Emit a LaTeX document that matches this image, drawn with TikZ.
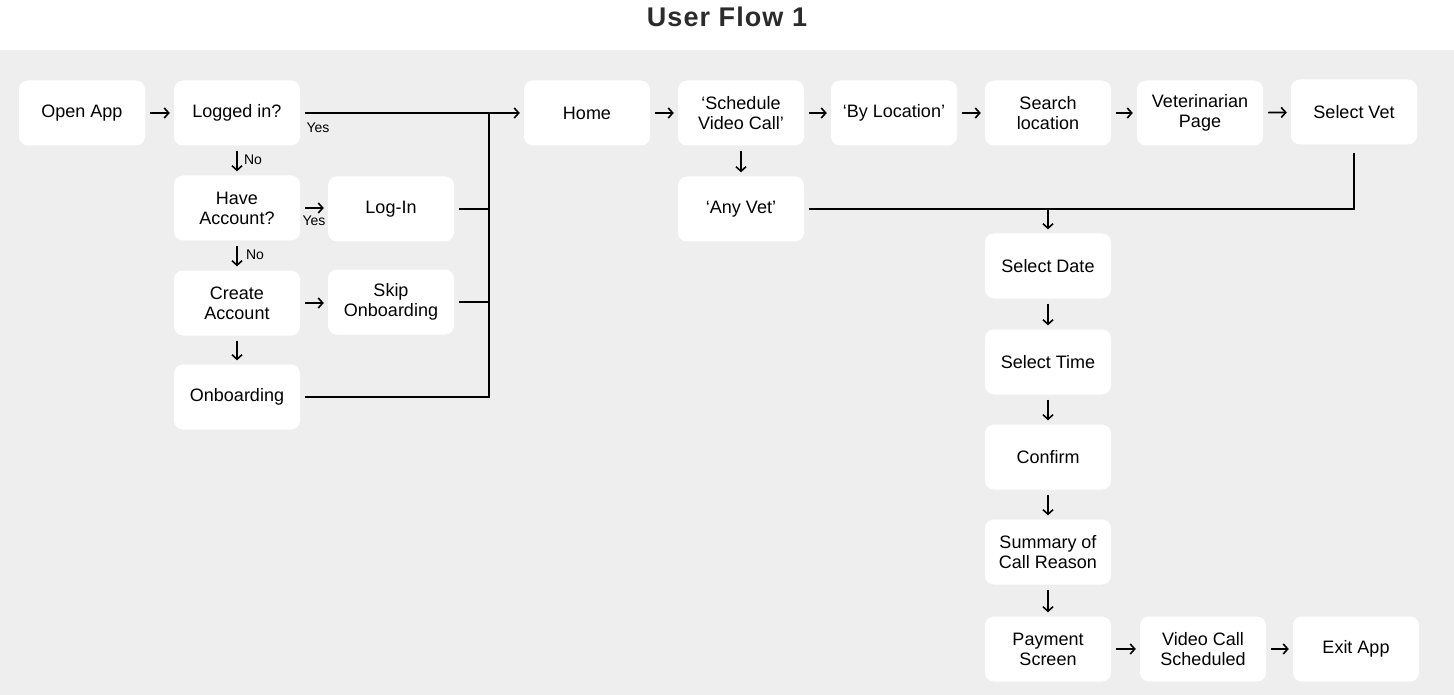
\documentclass[tikz,border=0pt]{standalone}
\usepackage{fontspec}
\setmainfont{Liberation Sans}
\usetikzlibrary{arrows.meta}
\definecolor{panel}{HTML}{EEEEEE}
\definecolor{titlecol}{HTML}{2B2B2B}
\begin{document}
\begin{tikzpicture}[x=1pt,y=-1pt,
  stepbox/.style={fill=white, rounded corners=9pt, minimum width=126pt, minimum height=65pt,
    inner sep=0pt, align=center, font=\fontsize{18}{20}\selectfont},
  arr/.style={line width=1.6pt, -{Straight Barb[length=4.5pt,width=10pt,line width=1.6pt]}, shorten <=5pt, shorten >=4pt},
  link/.style={line width=1.6pt},
  tag/.style={font=\fontsize{14}{16}\selectfont, inner sep=0pt}]
  % page and panel
  \useasboundingbox (0,0) rectangle (1454,695);
  \fill[white] (0,0) rectangle (1454,50);
  \fill[panel] (0,50) rectangle (1454,695);
  \node[font=\bfseries\fontsize{27}{30}\selectfont\addfontfeatures{LetterSpace=4}, text=titlecol] (title) at (727,17) {User Flow 1};

  % top row
  \node[stepbox] (open)   at (82,113)   {Open App};
  \node[stepbox] (logged) at (237,113)  {Logged in?};
  \node[stepbox] (home)   at (587,113)  {Home};
  \node[stepbox] (sched)  at (741,113)  {‘Schedule\\Video Call’};
  \node[stepbox] (byloc)  at (894,113)  {‘By Location’};
  \node[stepbox] (search) at (1048,113) {Search\\location};
  \node[stepbox] (vetpg)  at (1200,113) {Veterinarian\\Page};
  \node[stepbox] (selvet) at (1354,112) {Select Vet};

  % sign-in branch
  \node[stepbox] (have)   at (237,208)  {Have\\Account?};
  \node[stepbox] (login)  at (391,209)  {Log-In};
  \node[stepbox] (create) at (237,303)  {Create\\Account};
  \node[stepbox] (skip)   at (391,302)  {Skip\\Onboarding};
  \node[stepbox] (onb)    at (237,397)  {Onboarding};

  % any vet
  \node[stepbox] (anyvet) at (741,209)  {‘Any Vet’};

  % booking column
  \node[stepbox] (date)    at (1048,266) {Select Date};
  \node[stepbox] (time)    at (1048,362) {Select Time};
  \node[stepbox] (confirm) at (1048,457) {Confirm};
  \node[stepbox] (summary) at (1048,552) {Summary of\\Call Reason};
  \node[stepbox] (pay)     at (1048,649) {Payment\\Screen};
  \node[stepbox] (vcs)     at (1203,649) {Video Call\\Scheduled};
  \node[stepbox] (exit)    at (1356,649) {Exit App};

  % bus collecting the sign-in paths
  \coordinate (bus) at (489,113);

  % top row connectors
  \draw[arr] (open) -- (logged);
  \draw[arr] (logged.east) -- (home.west);
  \draw[arr] (home) -- (sched);
  \draw[arr] (sched) -- (byloc);
  \draw[arr] (byloc) -- (search);
  \draw[arr] (search) -- (vetpg);
  \draw[arr] (vetpg) -- (selvet);
  \node[tag] (yes1) at (318,128) {Yes};

  % sign-in connectors
  \draw[arr] (logged) -- (have);
  \node[tag] (no1) at (253,160) {No};
  \draw[arr] (have) -- (have.east -| login.west);
  \node[tag] (yes2) at (314,221) {Yes};
  \draw[arr] (have) -- (create);
  \node[tag] (no2) at (255,255) {No};
  \draw[arr] (create.east) -- (create.east -| skip.west);
  \draw[arr] (create) -- (onb);
  \draw[link, shorten <=5pt] (login.east) -- (login.east -| bus);
  \draw[link, shorten <=5pt] (skip.east) -- (skip.east -| bus);
  \draw[link, shorten <=5pt] (onb.east) -- (onb.east -| bus) -- (bus);

  % vet choice connectors
  \draw[arr] (sched) -- (anyvet);
  \draw[link, shorten <=8pt] (selvet.south) -- (selvet.south |- anyvet.east) -- (anyvet.east -| date.north);
  \draw[link, shorten >=5pt] (anyvet.east -| date.north) -- (anyvet.east);
  \draw[arr, shorten <=0pt] (anyvet.east -| date.north) -- (date.north);

  % booking connectors
  \draw[arr] (date) -- (time);
  \draw[arr] (time) -- (confirm);
  \draw[arr] (confirm) -- (summary);
  \draw[arr] (summary) -- (pay);
  \draw[arr] (pay) -- (vcs);
  \draw[arr] (vcs) -- (exit);
\end{tikzpicture}
\end{document}
